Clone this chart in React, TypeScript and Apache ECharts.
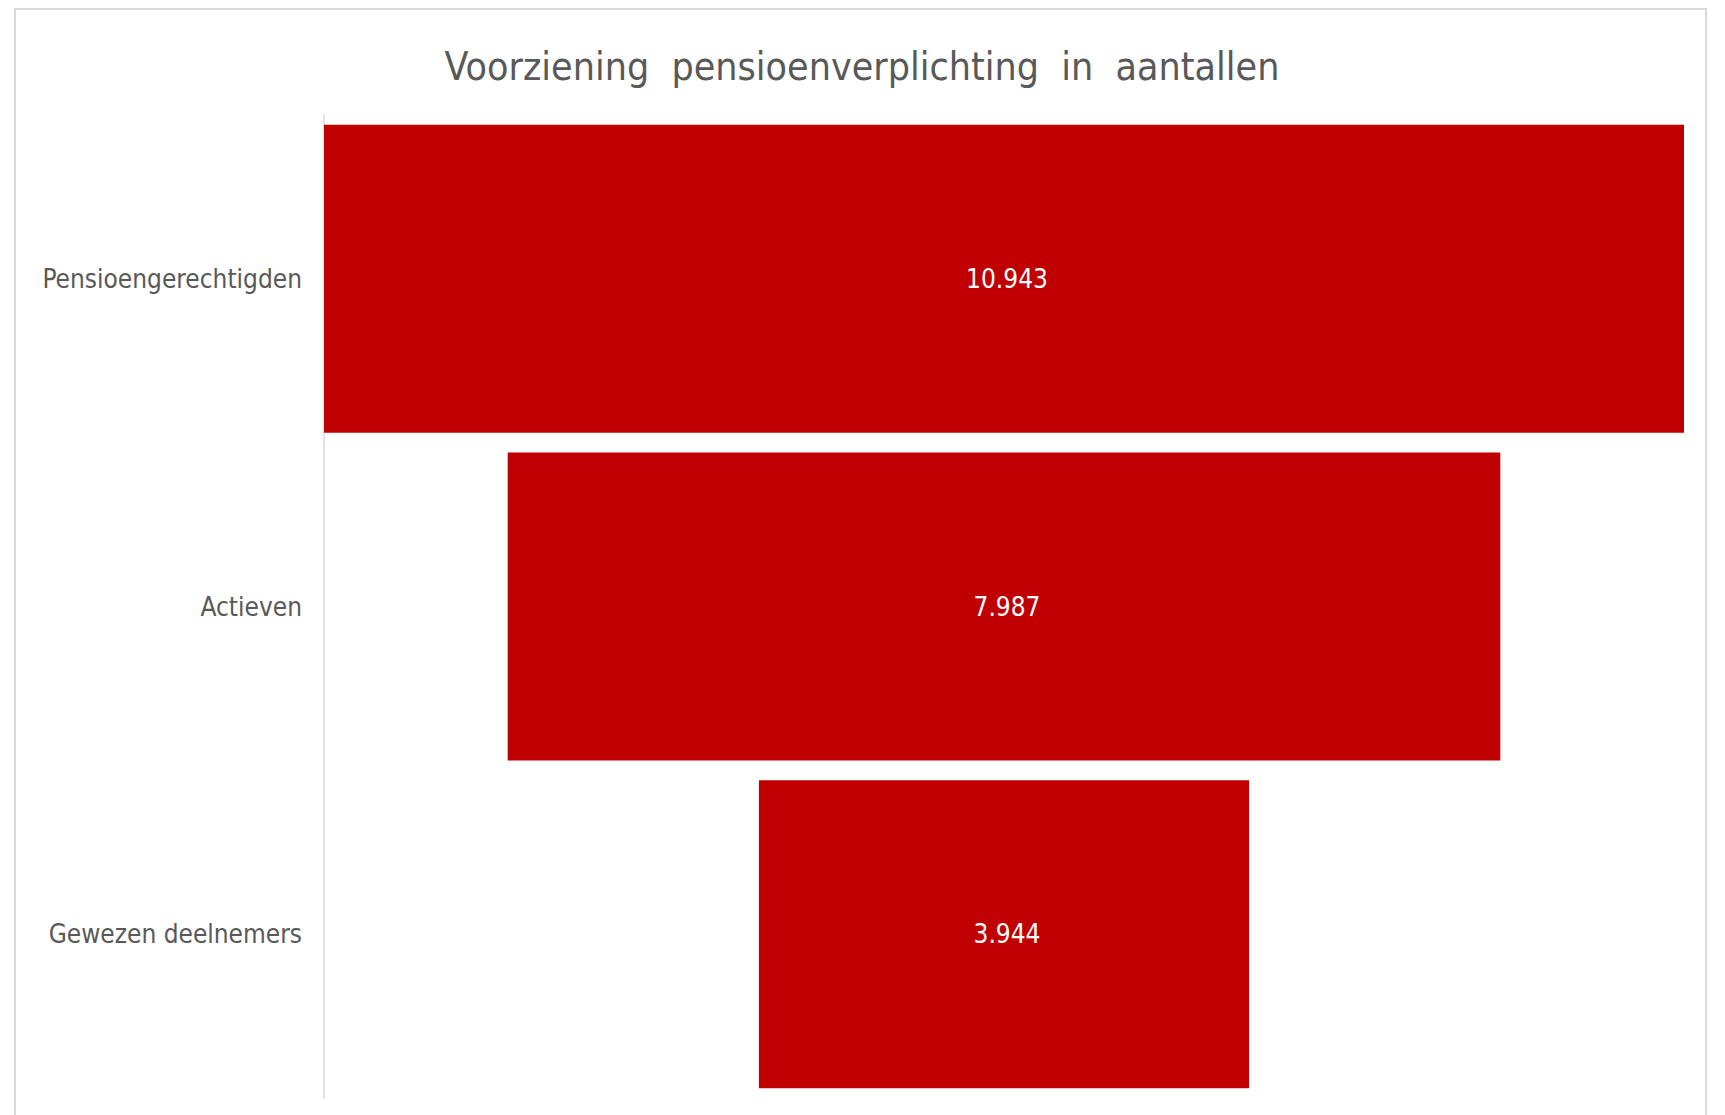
import React, { useEffect, useRef } from "react";
import * as echarts from "echarts";

const titleText = "Voorziening  pensioenverplichting  in  aantallen";
const categories = ["Pensioengerechtigden", "Actieven", "Gewezen deelnemers"];
const values = [10943, 7987, 3944];

const FONT = "'Liberation Sans Narrow', 'DejaVu Sans Condensed', 'Open Sans', sans-serif";
const TEXT_COLOR = "#595959";
const BAR_COLOR = "#C00000";

function formatNl(v: number): string {
  const s = Math.round(v).toString();
  return s.replace(/\B(?=(\d{3})+(?!\d))/g, ".");
}

export default function App() {
  const ref = useRef<HTMLDivElement>(null);
  useEffect(() => {
    if (!ref.current) return;
    const chart = echarts.init(ref.current, undefined, { renderer: "svg" });
    const maxV = Math.max(...values);
    const offsets = values.map((v) => (maxV - v) / 2);
    chart.setOption({
      animation: false,
      backgroundColor: "#ffffff",
      title: {
        text: titleText,
        left: 857,
        textAlign: "center",
        top: 42,
        textStyle: {
          fontFamily: FONT,
          fontSize: 39,
          fontWeight: "normal",
          color: TEXT_COLOR,
        },
      },
      graphic: [
        {
          type: "rect",
          z: -1,
          shape: { x: 15, y: 9, width: 1691, height: 1200 },
          style: { fill: "none", stroke: "#d9d9d9", lineWidth: 2 },
          silent: true,
        },
      ],
      grid: { left: 324, right: 41, top: 115, bottom: 17, containLabel: false },
      xAxis: {
        type: "value",
        min: 0,
        max: maxV,
        show: false,
        splitLine: { show: false },
      },
      yAxis: {
        type: "category",
        data: categories,
        inverse: true,
        axisLine: { show: true, lineStyle: { color: "#d9d9d9", width: 1.5 } },
        axisTick: { show: false },
        axisLabel: {
          margin: 22,
          fontFamily: FONT,
          fontSize: 26,
          color: TEXT_COLOR,
        },
      },
      series: [
        {
          type: "bar",
          stack: "funnel",
          data: offsets,
          itemStyle: { color: "transparent" },
          silent: true,
          barCategoryGap: "6%",
        },
        {
          type: "bar",
          stack: "funnel",
          data: values,
          barCategoryGap: "6%",
          itemStyle: { color: BAR_COLOR },
          label: {
            show: true,
            position: "inside",
            offset: [3, 0],
            formatter: (p: any) => formatNl(p.value),
            fontFamily: FONT,
            fontSize: 26,
            color: "#ffffff",
          },
        },
      ],
    });
    return () => chart.dispose();
  }, []);
  return (
    <div
      ref={ref}
      style={{ position: "absolute", left: 0, top: 0, width: 1725, height: 1115 }}
    />
  );
}
